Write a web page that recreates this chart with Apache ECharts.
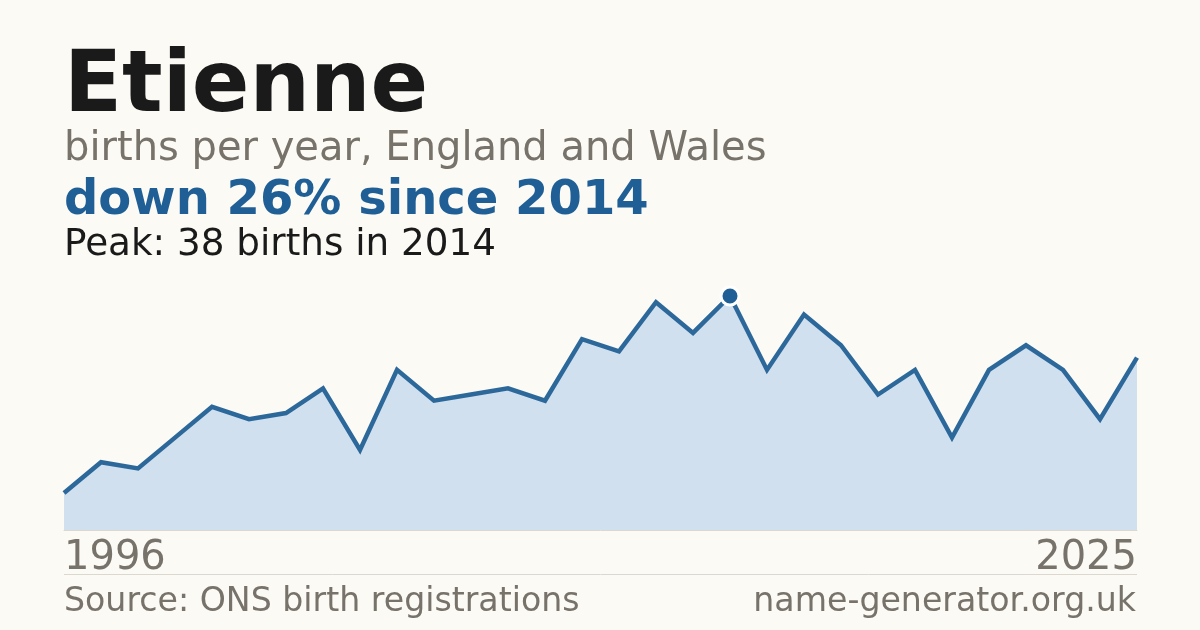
<!DOCTYPE html>
<html>
<head>
<meta charset="utf-8">
<script src="https://cdn.jsdelivr.net/npm/echarts@6/dist/echarts.min.js"></script>
<style>
html,body{margin:0;padding:0;background:#fbfaf5;}
#chart{width:1200px;height:630px;}
</style>
</head>
<body>
<div id="chart"></div>
<script>
var years = ['1996','1997','1998','1999','2000','2001','2002','2003','2004','2005','2006','2007','2008','2009','2010','2011','2012','2013','2014','2015','2016','2017','2018','2019','2020','2021','2022','2023','2024','2025'];
var births = [6,11,10,15,20,18,19,23,13,26,21,22,23,21,31,29,37,32,38,26,35,30,22,26,15,26,30,26,18,28];
var nameTitle = 'Etienne';
var subtitle = 'births per year, England and Wales';
var sourceText = 'Source: ONS birth registrations';
var siteText = 'name-generator.org.uk';

var peakVal = Math.max.apply(null, births);
var peakIdx = births.indexOf(peakVal);
var lastVal = births[births.length - 1];
var pct = Math.round((peakVal - lastVal) / peakVal * 100);
var changeText = 'down ' + pct + '% since ' + years[peakIdx];
var peakText = 'Peak: ' + peakVal + ' births in ' + years[peakIdx];

var FONT = 'DejaVu Sans';
var GRAY = '#77726a';
var BLUE = '#1f5f96';

var chart = echarts.init(document.getElementById('chart'), null, {renderer: 'canvas'});
function txt(x, y, text, size, weight, color, align) {
  return {
    type: 'text', x: x, y: y, silent: true,
    style: {
      text: text, fontFamily: FONT, fontSize: size, fontWeight: weight,
      fill: color, align: align || 'left', verticalAlign: 'middle'
    }
  };
}
chart.setOption({
  backgroundColor: '#fbfaf5',
  animation: false,
  grid: {left: 64, right: 63, top: 296, bottom: 100, containLabel: false},
  xAxis: {
    type: 'category', data: years, boundaryGap: false,
    axisLine: {show: true, lineStyle: {color: '#dcd8cf', width: 1}},
    axisTick: {show: false},
    splitLine: {show: false},
    axisLabel: {
      show: true, interval: 0, margin: 9,
      fontFamily: FONT, fontSize: 40, color: GRAY,
      alignMinLabel: 'left', alignMaxLabel: 'right',
      formatter: function (v, i) { return (i === 0 || i === years.length - 1) ? v : ''; }
    }
  },
  yAxis: {
    type: 'value', min: 0, max: peakVal,
    show: false, splitLine: {show: false}
  },
  series: [
    {
      type: 'line', data: births, symbol: 'none', smooth: false,
      lineStyle: {color: '#2d689b', width: 4.5, join: 'miter'},
      areaStyle: {color: '#d0e0ef', opacity: 1},
      z: 2
    },
    {
      type: 'scatter', data: [[peakIdx, peakVal]], symbol: 'circle', symbolSize: 18,
      itemStyle: {color: BLUE, borderColor: '#ffffff', borderWidth: 3, opacity: 1},
      z: 5
    }
  ],
  graphic: [
    txt(64, 88.5, nameTitle, 85, 'bold', '#1a1a1a'),
    txt(64, 149.5, subtitle, 40, 'normal', GRAY),
    txt(64, 202, changeText, 48, 'bold', BLUE),
    txt(64, 245.5, peakText, 37.3, 'normal', '#1a1a1a'),
    {
      type: 'line', silent: true,
      shape: {x1: 64, y1: 574.5, x2: 1137, y2: 574.5},
      style: {stroke: '#dcd8cf', lineWidth: 1}
    },
    txt(64, 602, sourceText, 33.2, 'normal', GRAY),
    txt(1136, 602, siteText, 33.2, 'normal', GRAY, 'right')
  ]
});
</script>
</body>
</html>
